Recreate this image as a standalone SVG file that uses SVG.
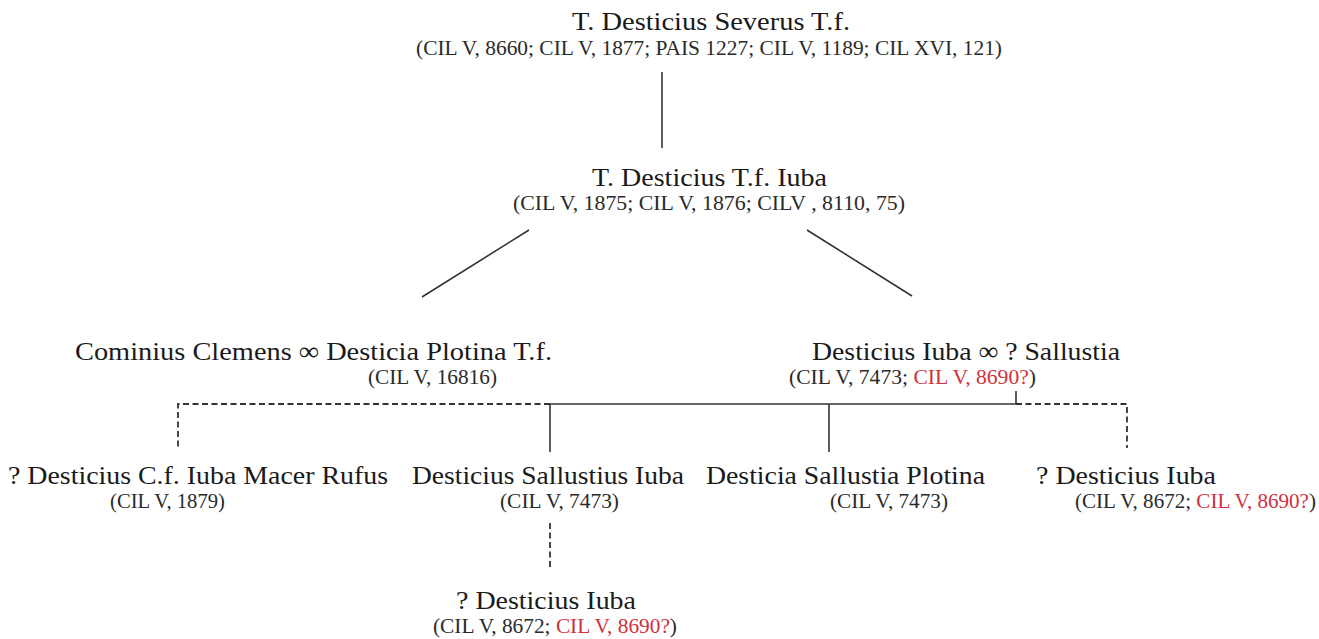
<svg xmlns="http://www.w3.org/2000/svg" width="1319" height="639" viewBox="0 0 1319 639">
<style>
.n{font-family:"Liberation Serif","Times New Roman",serif;font-size:26px;fill:#1a1a1a}
.c{font-family:"Liberation Serif","Times New Roman",serif;font-size:20px;fill:#2a2a2a}
.r{fill:#d0313a}
.s{stroke:#333;stroke-width:1.6;fill:none}
.d{stroke:#333;stroke-width:1.8;fill:none;stroke-dasharray:6 3.5}
</style>
<rect width="1319" height="639" fill="#fff"/>
<g id="connectors">
<line class="s" x1="662" y1="72" x2="662" y2="148"/>
<line class="s" x1="529" y1="230" x2="422" y2="297"/>
<line class="s" x1="807" y1="230" x2="912" y2="296"/>
<line class="s" x1="1016" y1="391" x2="1016" y2="404"/>
<line class="s" x1="550" y1="404" x2="1016" y2="404"/>
<line class="s" x1="550" y1="404" x2="550" y2="452"/>
<line class="s" x1="829" y1="404" x2="829" y2="452"/>
<path class="d" d="M550 404 H178 V448"/>
<path class="d" d="M1016 404 H1127 V448"/>
<line class="d" x1="550" y1="523" x2="550" y2="570"/>
</g>
<g id="severus">
<text class="n" x="572" y="30" textLength="278" lengthAdjust="spacingAndGlyphs">T. Desticius Severus T.f.</text>
<text class="c" x="416" y="55" textLength="586" lengthAdjust="spacingAndGlyphs">(CIL V, 8660; CIL V, 1877; PAIS 1227; CIL V, 1189; CIL XVI, 121)</text>
</g>
<g id="iuba-father">
<text class="n" x="592" y="186" textLength="235" lengthAdjust="spacingAndGlyphs">T. Desticius T.f. Iuba</text>
<text class="c" x="513" y="210" textLength="392" lengthAdjust="spacingAndGlyphs">(CIL V, 1875; CIL V, 1876; CILV , 8110, 75)</text>
</g>
<g id="plotina">
<text class="n" x="75" y="360" textLength="477" lengthAdjust="spacingAndGlyphs">Cominius Clemens ∞ Desticia Plotina T.f.</text>
<text class="c" x="368" y="384" textLength="129" lengthAdjust="spacingAndGlyphs">(CIL V, 16816)</text>
</g>
<g id="iuba-sallustia">
<text class="n" x="812" y="360" textLength="308" lengthAdjust="spacingAndGlyphs">Desticius Iuba ∞ ? Sallustia</text>
<text class="c" x="789" y="384" textLength="247" lengthAdjust="spacingAndGlyphs">(CIL V, 7473; <tspan class="r">CIL V, 8690?</tspan>)</text>
</g>
<g id="macer-rufus">
<text class="n" x="8" y="484" textLength="380" lengthAdjust="spacingAndGlyphs">? Desticius C.f. Iuba Macer Rufus</text>
<text class="c" x="110" y="508" textLength="115" lengthAdjust="spacingAndGlyphs">(CIL V, 1879)</text>
</g>
<g id="sallustius-iuba">
<text class="n" x="412" y="484" textLength="272" lengthAdjust="spacingAndGlyphs">Desticius Sallustius Iuba</text>
<text class="c" x="500" y="508" textLength="119" lengthAdjust="spacingAndGlyphs">(CIL V, 7473)</text>
</g>
<g id="sallustia-plotina">
<text class="n" x="706" y="484" textLength="279" lengthAdjust="spacingAndGlyphs">Desticia Sallustia Plotina</text>
<text class="c" x="830" y="508" textLength="118" lengthAdjust="spacingAndGlyphs">(CIL V, 7473)</text>
</g>
<g id="iuba-right">
<text class="n" x="1036" y="484" textLength="180" lengthAdjust="spacingAndGlyphs">? Desticius Iuba</text>
<text class="c" x="1075" y="508" textLength="241" lengthAdjust="spacingAndGlyphs">(CIL V, 8672; <tspan class="r">CIL V, 8690?</tspan>)</text>
</g>
<g id="iuba-grandson">
<text class="n" x="456" y="609" textLength="180" lengthAdjust="spacingAndGlyphs">? Desticius Iuba</text>
<text class="c" x="433" y="633" textLength="244" lengthAdjust="spacingAndGlyphs">(CIL V, 8672; <tspan class="r">CIL V, 8690?</tspan>)</text>
</g>
</svg>
